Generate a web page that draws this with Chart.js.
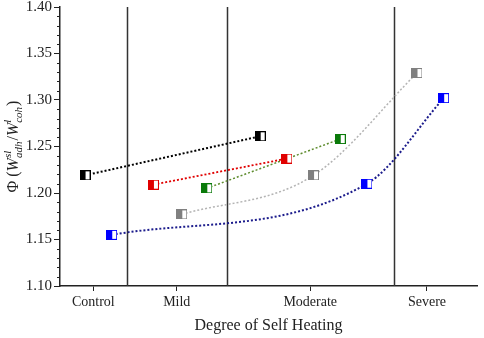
<!DOCTYPE html>
<html>
<head>
<meta charset="utf-8">
<script src="https://cdn.jsdelivr.net/npm/chart.js@4.4.1/dist/chart.umd.min.js"></script>
<style>
  html, body { margin: 0; padding: 0; background: #fff; }
</style>
</head>
<body>
<canvas id="c" width="484" height="338"></canvas>
<script>
// categories on the x axis and where they sit
const categories = ['Control', 'Mild', 'Moderate', 'Severe'];
const categoryPos = [2, 7, 15, 22];
const dividers = [4, 10, 20];

// series (x, y)
const blackX = [1.5, 12.0];
const blackY = [1.219, 1.261];
const redX = [5.6, 13.6];
const redY = [1.209, 1.237];
const greenX = [8.8, 16.8];
const greenY = [1.205, 1.258];
const grayX = [7.3, 15.2, 21.4];
const grayY = [1.177, 1.219, 1.329];
const blueX = [3.1, 18.4, 23.0];
const blueY = [1.155, 1.210, 1.302];

const FONT = '"Liberation Serif", "Times New Roman", serif';
const INK = '#222';

// half filled square marker
function marker(color) {
  const c = document.createElement('canvas');
  c.width = 11; c.height = 10;
  const g = c.getContext('2d');
  g.fillStyle = '#fff';
  g.fillRect(0, 0, 11, 10);
  g.fillStyle = color;
  g.fillRect(0, 0, 6, 10);
  g.strokeStyle = color;
  g.lineWidth = 1;
  g.strokeRect(0.5, 0.5, 10, 9);
  return c;
}

function pts(xs, ys) {
  return xs.map((x, i) => ({ x, y: ys[i] }));
}

function series(xs, ys, line, mark, width, curved) {
  return {
    data: pts(xs, ys),
    showLine: true,
    borderColor: line,
    borderWidth: width,
    borderDash: [2, 2],
    pointStyle: marker(mark),
    pointRadius: 5,
    cubicInterpolationMode: curved ? 'monotone' : 'default',
    tension: 0,
  };
}

// dividers, minor ticks and the two axis titles
const extras = {
  id: 'extras',
  beforeDatasetsDraw(chart) {
    const { ctx, chartArea, scales } = chart;
    ctx.save();
    ctx.strokeStyle = '#333';
    ctx.lineWidth = 1.5;
    dividers.forEach((v) => {
      const x = Math.round(scales.x.getPixelForValue(v)) + 0.5;
      ctx.beginPath();
      ctx.moveTo(x, chartArea.top);
      ctx.lineTo(x, chartArea.bottom);
      ctx.stroke();
    });
    ctx.restore();
  },
  afterDraw(chart) {
    const { ctx, chartArea, scales } = chart;
    ctx.save();
    // minor ticks on y
    ctx.strokeStyle = INK;
    ctx.lineWidth = 1;
    for (let k = 110; k <= 140; k++) {
      if (k % 5 === 0) continue;
      const y = Math.round(scales.y.getPixelForValue(k / 100)) + 0.5;
      ctx.beginPath();
      ctx.moveTo(chartArea.left - 3, y);
      ctx.lineTo(chartArea.left, y);
      ctx.stroke();
    }
    // x title
    ctx.fillStyle = INK;
    ctx.font = '16px ' + FONT;
    ctx.textAlign = 'center';
    ctx.textBaseline = 'middle';
    ctx.fillText('Degree of Self Heating', (chartArea.left + chartArea.right) / 2, 326);

    // y title with sub/superscripts
    const parts = [
      { t: 'Φ (' },
      { t: 'W', it: true },
      { sup: 'sl', sub: 'adh' },
      { t: '/' },
      { t: 'W', it: true },
      { sup: 'l', sub: 'coh' },
      { t: ')' },
    ];
    const big = (it) => (it ? 'italic ' : '') + '16px ' + FONT;
    const small = 'italic 11px ' + FONT;
    let total = 0;
    parts.forEach((p) => {
      if (p.t) { ctx.font = big(p.it); p.w = ctx.measureText(p.t).width; }
      else {
        ctx.font = small;
        p.w = Math.max(ctx.measureText(p.sup).width, ctx.measureText(p.sub).width) + 1;
      }
      total += p.w;
    });
    ctx.translate(13, (chartArea.top + chartArea.bottom) / 2);
    ctx.rotate(-Math.PI / 2);
    ctx.textAlign = 'left';
    ctx.textBaseline = 'alphabetic';
    let x = -total / 2;
    const base = 5;
    parts.forEach((p) => {
      if (p.t) {
        ctx.font = big(p.it);
        ctx.fillText(p.t, x, base);
      } else {
        ctx.font = small;
        ctx.fillText(p.sup, x, base - 7);
        ctx.fillText(p.sub, x, base + 4);
      }
      x += p.w;
    });
    ctx.restore();
  },
};

new Chart(document.getElementById('c'), {
  type: 'scatter',
  data: {
    datasets: [
      series(blackX, blackY, '#000', '#000', 2, false),
      series(redX, redY, '#e00000', '#e00000', 1.8, false),
      series(greenX, greenY, '#5e8c2e', '#0a7a0a', 1.5, false),
      series(grayX, grayY, '#b4b4b4', '#808080', 1.5, true),
      series(blueX, blueY, '#1c1c8c', '#0000ff', 2, true),
    ],
  },
  options: {
    responsive: false,
    devicePixelRatio: 1,
    animation: false,
    layout: { padding: { top: 6, right: 6, left: 0, bottom: 0 } },
    plugins: { legend: { display: false }, tooltip: { enabled: false } },
    scales: {
      x: {
        type: 'linear',
        min: 0,
        max: 25,
        afterBuildTicks: (s) => { s.ticks = categoryPos.map((v) => ({ value: v })); },
        afterFit: (s) => { s.height = 52; s.paddingLeft = 0; s.paddingRight = 0; },
        ticks: {
          autoSkip: false,
          maxRotation: 0,
          padding: 3,
          color: INK,
          font: { family: FONT, size: 14 },
          callback: (v) => categories[categoryPos.indexOf(v)],
        },
        grid: { drawOnChartArea: false, tickLength: 5, color: INK },
        border: { color: INK, width: 1.5 },
      },
      y: {
        min: 1.10,
        max: 1.40,
        afterFit: (s) => { s.width = 60; s.paddingTop = 0; s.paddingBottom = 0; },
        ticks: {
          stepSize: 0.05,
          padding: 2,
          color: INK,
          font: { family: FONT, size: 15 },
          callback: (v) => v.toFixed(2),
        },
        grid: { drawOnChartArea: false, tickLength: 6, color: INK },
        border: { color: INK, width: 1.5 },
      },
    },
  },
  plugins: [extras],
});
</script>
</body>
</html>
